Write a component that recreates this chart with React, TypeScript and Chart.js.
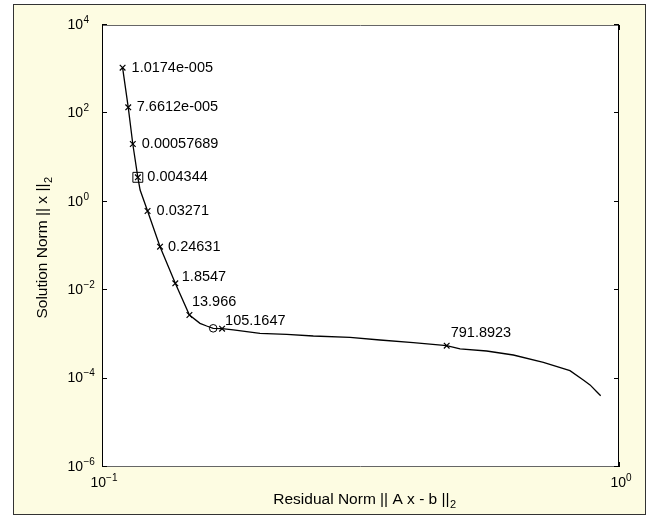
import { useEffect, useRef } from "react";
import { Chart, registerables } from "chart.js";

Chart.register(...registerables);

// L-curve: residual norm (rho) against solution norm (eta)
const curveRho = [
  0.1096, 0.1124, 0.1147, 0.1173, 0.1185, 0.1225, 0.1295, 0.1386, 0.1476,
  0.1547, 0.1594, 0.1641, 0.1707, 0.1795, 0.2021, 0.2277, 0.2563, 0.3018,
  0.3449, 0.4, 0.4642, 0.4927, 0.5546, 0.6246, 0.714, 0.8038, 0.853, 0.879,
  0.9055, 0.9217,
];
const curveEta = [
  1081, 137, 20.3, 3.58, 1.85, 0.619, 0.0964, 0.01432, 0.002748,
  0.001782, 0.001549, 0.001374, 0.001346, 0.001259, 0.001059, 0.001005,
  0.00092, 0.000859, 0.000747, 0.000649, 0.000555, 0.000468, 0.000421,
  0.000342, 0.000234, 0.000151, 9.3e-5, 7.2e-5, 5.06e-5, 4.1e-5,
];

// Labelled regularization parameters
const markRho = [0.1096, 0.1124, 0.1147, 0.1173, 0.1225, 0.1295, 0.1386, 0.1476, 0.1707, 0.4642];
const markEta = [1081, 137, 20.3, 3.58, 0.619, 0.0964, 0.01432, 0.002748, 0.001346, 0.000555];
const regParams = [
  "1.0174e-005", "7.6612e-005", "0.00057689", "0.004344", "0.03271",
  "0.24631", "1.8547", "13.966", "105.1647", "791.8923",
];
const cornerIndex = 3;

// Extra point marked with a circle
const circleRho = [0.1641];
const circleEta = [0.001374];

const xDecades = [-1, 0];
const yDecades = [-6, -4, -2, 0, 2, 4];

const xTitle = "Residual Norm || A x - b ||";
const yTitle = "Solution Norm || x ||";
const normSub = "2";

const FONT = '"Liberation Sans", Arial, Helvetica, sans-serif';
const PANEL = "#fdfce2";

// label nudges (px) relative to each marker
const labelDx = [9, 8.5, 9, 9.5, 9, 8, 6.5, 2.5, 3, 4];
const labelDy = [0, 0, 0, 0, 0, 0, -6, -12.5, -7.7, -12.7];

const expText = (e: number) => (e < 0 ? "\u2212" + Math.abs(e) : String(e));

const framePlugin = {
  id: "matlabFrame",
  beforeDraw(chart: any) {
    const { ctx, width, height, chartArea: a } = chart;
    ctx.save();
    ctx.fillStyle = "#ffffff";
    ctx.fillRect(0, 0, width, height);
    ctx.fillStyle = PANEL;
    ctx.fillRect(13, 4, 633, 511);
    ctx.strokeStyle = "#333333";
    ctx.lineWidth = 1;
    ctx.strokeRect(13.5, 4.5, 632, 510);
    ctx.fillStyle = "#ffffff";
    ctx.fillRect(a.left, a.top, a.right - a.left, a.bottom - a.top);
    ctx.restore();
  },
  afterDraw(chart: any) {
    const { ctx, chartArea: a } = chart;
    const xs = chart.scales.x;
    const ys = chart.scales.y;
    ctx.save();

    // axes box
    ctx.lineWidth = 1;
    ctx.strokeStyle = "#666666";
    ctx.beginPath();
    ctx.moveTo(a.left, a.top + 0.5);
    ctx.lineTo(a.right, a.top + 0.5);
    ctx.moveTo(a.left, a.bottom - 0.5);
    ctx.lineTo(a.right, a.bottom - 0.5);
    ctx.stroke();
    ctx.strokeStyle = "#000000";
    ctx.beginPath();
    ctx.moveTo(a.left + 0.5, a.top);
    ctx.lineTo(a.left + 0.5, a.bottom);
    ctx.moveTo(a.right - 0.5, a.top);
    ctx.lineTo(a.right - 0.5, a.bottom);
    ctx.stroke();

    // inward ticks
    ctx.beginPath();
    yDecades.forEach((e) => {
      const py = Math.round(ys.getPixelForValue(Math.pow(10, e))) - 0.5;
      ctx.moveTo(a.left, py);
      ctx.lineTo(a.left + 5, py);
      ctx.moveTo(a.right, py);
      ctx.lineTo(a.right - 5, py);
    });
    xDecades.forEach((e) => {
      const px = Math.round(xs.getPixelForValue(Math.pow(10, e))) + 0.5;
      ctx.moveTo(px, a.bottom);
      ctx.lineTo(px, a.bottom - 5);
      ctx.moveTo(px, a.top);
      ctx.lineTo(px, a.top + 5);
    });
    ctx.stroke();

    ctx.fillStyle = "#000000";
    // y tick labels: 10^e
    yDecades.forEach((e) => {
      const py = ys.getPixelForValue(Math.pow(10, e));
      const bx = a.left - 19;
      ctx.textBaseline = "middle";
      ctx.font = `14px ${FONT}`;
      ctx.textAlign = "right";
      ctx.fillText("10", bx, py);
      ctx.font = `10px ${FONT}`;
      ctx.textAlign = "left";
      ctx.fillText(expText(e), bx + 0.5, py - 5);
    });
    // x tick labels
    xDecades.forEach((e) => {
      const px = xs.getPixelForValue(Math.pow(10, e));
      ctx.textBaseline = "middle";
      ctx.textAlign = "left";
      ctx.font = `14px ${FONT}`;
      const wb = ctx.measureText("10").width;
      ctx.font = `10px ${FONT}`;
      const we = ctx.measureText(expText(e)).width;
      const sx = px + 2 - (wb + we) / 2;
      ctx.font = `14px ${FONT}`;
      ctx.fillText("10", sx, a.bottom + 16);
      ctx.font = `10px ${FONT}`;
      ctx.fillText(expText(e), sx + wb, a.bottom + 11);
    });

    // axis titles with subscript
    ctx.textBaseline = "alphabetic";
    ctx.textAlign = "left";
    ctx.font = `15.5px ${FONT}`;
    const wx = ctx.measureText(xTitle).width;
    ctx.font = `11px ${FONT}`;
    const wxs = ctx.measureText(normSub).width;
    const cx = (a.left + a.right) / 2 + 4;
    const tx = cx - (wx + wxs) / 2;
    ctx.font = `15.5px ${FONT}`;
    ctx.fillText(xTitle, tx, 503.5);
    ctx.font = `11px ${FONT}`;
    ctx.fillText(normSub, tx + wx + 0.5, 508);

    ctx.save();
    ctx.translate(47, 248);
    ctx.rotate(-Math.PI / 2);
    ctx.font = `15.5px ${FONT}`;
    const wy = ctx.measureText(yTitle).width;
    ctx.font = `11px ${FONT}`;
    const wys = ctx.measureText(normSub).width;
    const ty = -(wy + wys) / 2;
    ctx.font = `15.5px ${FONT}`;
    ctx.fillText(yTitle, ty, 0);
    ctx.font = `11px ${FONT}`;
    ctx.fillText(normSub, ty + wy + 0.5, 4.5);
    ctx.restore();

    // parameter labels
    ctx.font = `14.5px ${FONT}`;
    ctx.textBaseline = "middle";
    ctx.textAlign = "left";
    regParams.forEach((lab, i) => {
      const px = xs.getPixelForValue(markRho[i]);
      const py = ys.getPixelForValue(markEta[i]);
      ctx.fillText(lab, px + labelDx[i], py + labelDy[i]);
    });

    ctx.restore();
  },
};

export default function App() {
  const ref = useRef<HTMLCanvasElement | null>(null);

  useEffect(() => {
    if (!ref.current) return;
    const chart = new Chart(ref.current, {
      type: "scatter",
      data: {
        datasets: [
          {
            data: curveRho.map((x, i) => ({ x, y: curveEta[i] })),
            showLine: true,
            borderColor: "#000000",
            borderWidth: 1.3,
            pointRadius: 0,
            tension: 0,
          },
          {
            data: markRho.map((x, i) => ({ x, y: markEta[i] })),
            pointStyle: "crossRot",
            pointRadius: 4,
            borderColor: "#000000",
            borderWidth: 1.2,
            showLine: false,
          },
          {
            data: [{ x: markRho[cornerIndex], y: markEta[cornerIndex] }],
            pointStyle: "rect",
            pointRadius: 7,
            borderColor: "#000000",
            backgroundColor: "rgba(0,0,0,0)",
            borderWidth: 1,
            showLine: false,
          },
          {
            data: circleRho.map((x, i) => ({ x, y: circleEta[i] })),
            pointStyle: "circle",
            pointRadius: 3.8,
            borderColor: "#000000",
            backgroundColor: "rgba(0,0,0,0)",
            borderWidth: 1,
            showLine: false,
          },
        ],
      },
      options: {
        animation: false,
        responsive: false,
        devicePixelRatio: 1,
        layout: { padding: { left: 102, top: 25, right: 30, bottom: 49 } },
        plugins: { legend: { display: false }, tooltip: { enabled: false } },
        scales: {
          x: { type: "logarithmic", min: 0.1, max: 1, display: false },
          y: { type: "logarithmic", min: 1e-6, max: 1e4, display: false },
        },
      },
      plugins: [framePlugin],
    });
    return () => chart.destroy();
  }, []);

  return (
    <div style={{ position: "fixed", left: 0, top: 0, width: 649, height: 516 }}>
      <canvas ref={ref} width={649} height={516} style={{ width: 649, height: 516, display: "block" }} />
    </div>
  );
}
